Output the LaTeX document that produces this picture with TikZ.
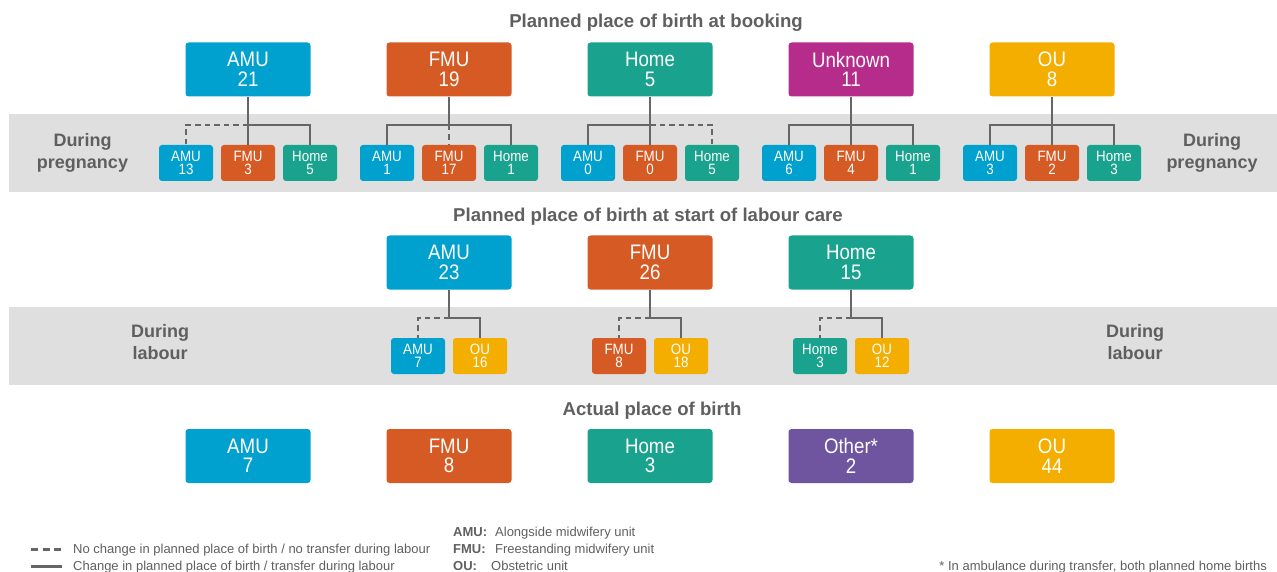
\documentclass[tikz,border=0pt]{standalone}
\usepackage{fontspec}
\setmainfont{Liberation Sans}
\newfontfamily\narrowsans[FakeStretch=0.89]{Liberation Sans}
\usepackage{tikz}
\usetikzlibrary{positioning}
\definecolor{amu}{HTML}{00A1CE}
\definecolor{fmu}{HTML}{D65A24}
\definecolor{home}{HTML}{19A38E}
\definecolor{unk}{HTML}{B62C8B}
\definecolor{ou}{HTML}{F4AE00}
\definecolor{other}{HTML}{6F54A0}
\definecolor{band}{HTML}{DFDFDF}
\definecolor{txtgray}{HTML}{5F5F5F}
\definecolor{linegray}{HTML}{666666}
\tikzset{bigbox/.style={rounded corners=3pt,minimum width=125pt,minimum height=54pt,inner sep=0pt,
    text=white,align=center,font=\narrowsans\fontsize{21}{19.5}\selectfont}}
\tikzset{smallbox/.style={rounded corners=3pt,minimum width=54pt,minimum height=36pt,inner sep=0pt,
    text=white,align=center,font=\narrowsans\fontsize{15}{12.5}\selectfont}}
\tikzset{title/.style={text=txtgray,anchor=base,inner sep=0pt,font=\bfseries\fontsize{18.6}{20}\selectfont}}
\tikzset{side/.style={text=txtgray,align=center,inner sep=0pt,font=\bfseries\fontsize{18}{22}\selectfont}}
\tikzset{legend/.style={text=txtgray,anchor=base west,inner sep=0pt,font=\fontsize{13}{15}\selectfont}}
\tikzset{link/.style={draw=linegray,line width=1.8pt}}
\tikzset{nolink/.style={link,dash pattern=on 5.5pt off 4pt}}
\begin{document}
\begin{tikzpicture}[x=1pt,y=-1pt]
  \useasboundingbox (0,0) rectangle (1277,572);
  \fill[band] (9,114) rectangle (1277,192);
  \fill[band] (9,307) rectangle (1277,385);
  \node[title] (t1) at (656,27.7) {Planned place of birth at booking};
  \node[title] (t2) at (648,221.7) {Planned place of birth at start of labour care};
  \node[title] (t3) at (652,415.7) {Actual place of birth};
  \node[side] (sp1) at (82.5,153) {During\\pregnancy};
  \node[side] (sp2) at (1212,153) {During\\pregnancy};
  \node[side] (sl1) at (160,342.5) {During\\labour};
  \node[side] (sl2) at (1135,342.5) {During\\labour};
  % at booking
  \foreach \nm/\col/\n [count=\i] in {AMU/amu/21,FMU/fmu/19,Home/home/5,Unknown/unk/11,OU/ou/8}
    \node[bigbox,fill=\col] (b\i) at ({47+201*\i},69.5) {\nm\\\n};
  \foreach \i/\a/\f/\h/\sa/\sf/\sh in {1/13/3/5/nolink/link/link,2/1/17/1/link/nolink/link,
      3/0/0/5/link/link/nolink,4/6/4/1/link/link/link,5/3/2/3/link/link/link}{
    \node[smallbox,fill=amu] (p\i a) at ({47+201*\i-62},163) {AMU\\\a};
    \node[smallbox,fill=fmu] (p\i f) at ({47+201*\i},163) {FMU\\\f};
    \node[smallbox,fill=home] (p\i h) at ({47+201*\i+62},163) {Home\\\h};
    \coordinate (j\i) at ({47+201*\i},125);
    \draw[link] (b\i.south) -- (j\i);
    \draw[\sa] (j\i) -| (p\i a.north);
    \draw[\sf] (j\i) -- (p\i f.north);
    \draw[\sh] (j\i) -| (p\i h.north);
  }
  % start of labour care
  \foreach \nm/\col/\n/\k/\o [count=\i] in {AMU/amu/23/7/16,FMU/fmu/26/8/18,Home/home/15/3/12}{
    \node[bigbox,fill=\col] (s\i) at ({248+201*\i},262.5) {\nm\\\n};
    \node[smallbox,fill=\col] (l\i k) at ({248+201*\i-31},356) {\nm\\\k};
    \node[smallbox,fill=ou] (l\i o) at ({248+201*\i+31},356) {OU\\\o};
    \coordinate (m\i) at ({248+201*\i},318);
    \draw[link] (s\i.south) -- (m\i) -| (l\i o.north);
    \draw[nolink] (m\i) -| (l\i k.north);
  }
  % actual place of birth
  \foreach \nm/\col/\n [count=\i] in {AMU/amu/7,FMU/fmu/8,Home/home/3,Other*/other/2,OU/ou/44}
    \node[bigbox,fill=\col] (a\i) at ({47+201*\i},456) {\nm\\\n};
  % legend
  \draw[link,line width=3pt,dash pattern=on 7pt off 4.5pt] (31,549) -- (62,549);
  \draw[link,line width=3pt] (31,566) -- (62,566);
  \node[legend] (lg1) at (73,553.5) {No change in planned place of birth / no transfer during labour};
  \node[legend] (lg2) at (73,570.5) {Change in planned place of birth / transfer during labour};
  \node[legend] (ab1) at (453,536.5) {\textbf{AMU:}};
  \node[legend] (ab2) at (453,553.5) {\textbf{FMU:}};
  \node[legend] (ab3) at (453,570.5) {\textbf{OU:}};
  \node[legend] (ad1) at (495,536.5) {Alongside midwifery unit};
  \node[legend] (ad2) at (495,553.5) {Freestanding midwifery unit};
  \node[legend] (ad3) at (491,570.5) {Obstetric unit};
  \node[legend,anchor=base east] (fn) at (1267,570.5) {* In ambulance during transfer, both planned home births};
\end{tikzpicture}
\end{document}
